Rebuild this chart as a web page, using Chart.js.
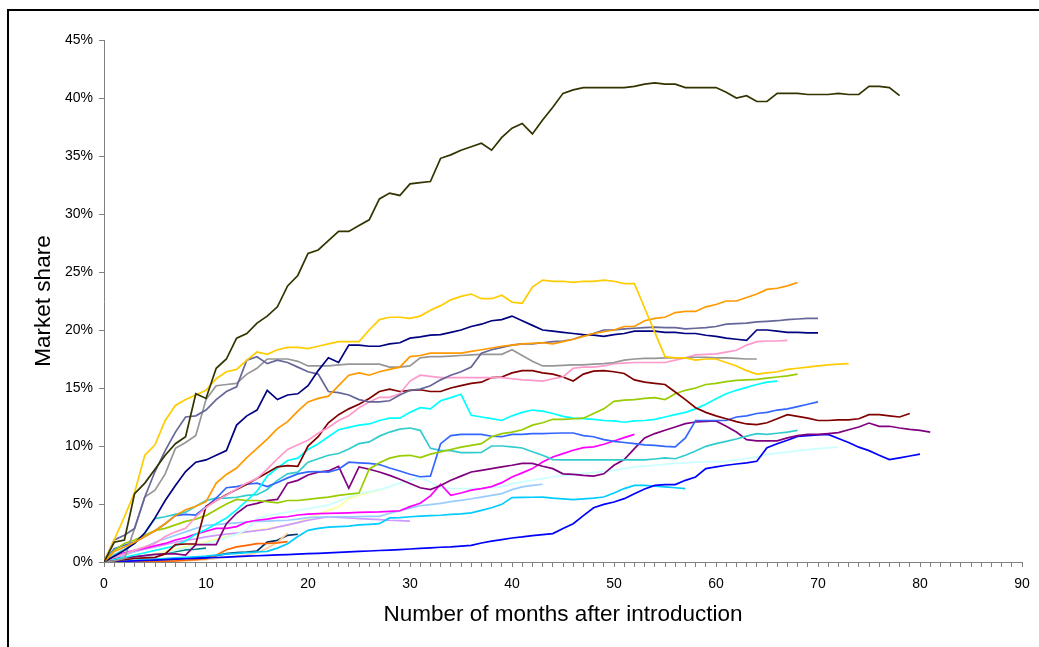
<!DOCTYPE html>
<html>
<head>
<meta charset="utf-8">
<title>Market share</title>
<script src="https://cdn.jsdelivr.net/npm/chart.js@4.4.1/dist/chart.umd.min.js"></script>
<style>
    html, body { margin: 0; padding: 0; background: #fff; overflow: hidden; }
    #wrap { position: relative; width: 1039px; height: 647px; }
    #chart { position: absolute; left: 0; top: 0; }
    #frame { position: absolute; left: 7px; top: 9px; width: 1100px; height: 700px;
             border-left: 2px solid #000; border-top: 2px solid #000; pointer-events: none; }
</style>
</head>
<body>
<div id="wrap">
    <canvas id="chart" width="1039" height="647"></canvas>
    <div id="frame"></div>
</div>
<script>
/*Axis ticks*/
var xMax = 90;
var xStep = 1;
var xLabelEvery = 10;
var yMax = 45;
var yStep = 5;

/*Series, market share in % by month after introduction (index = month)*/
var s333300 = [0,1.7,1.9,5.9,6.8,8.0,9.2,10.2,10.8,14.5,
    14.1,16.7,17.5,19.3,19.7,20.6,21.2,22.0,23.8,24.7,
    26.6,26.9,27.7,28.5,28.5,29.0,29.5,31.3,31.8,31.6,
    32.6,32.7,32.8,34.8,35.1,35.5,35.8,36.1,35.5,36.6,
    37.4,37.8,36.9,38.1,39.2,40.4,40.7,40.9,40.9,40.9,
    40.9,40.9,41.0,41.2,41.3,41.2,41.2,40.9,40.9,40.9,
    40.9,40.5,40.0,40.2,39.7,39.7,40.4,40.4,40.4,40.3,
    40.3,40.3,40.4,40.3,40.3,41.0,41.0,40.9,40.2];
var sFFCC00 = [0,1.9,3.9,6.0,9.2,10.1,12.2,13.5,14.0,14.4,
    14.8,15.8,16.4,16.6,17.4,18.1,17.9,18.3,18.5,18.5,
    18.4,18.6,18.8,19.0,19.0,19.0,20.0,20.9,21.1,21.1,
    21.0,21.2,21.7,22.1,22.6,22.9,23.1,22.7,22.7,23.0,
    22.4,22.3,23.7,24.3,24.2,24.2,24.1,24.2,24.2,24.3,
    24.2,24.0,24.0,21.9,19.8,17.7,17.6,17.6,17.4,17.5,
    17.5,17.2,16.9,16.5,16.2,16.3,16.4,16.6,16.7,16.8,
    16.9,17.0,17.05,17.1];
var sFF9900 = [0,0.9,1.3,1.7,2.2,2.7,3.3,4.0,4.5,4.8,
    5.2,6.8,7.55,8.1,9.0,9.8,10.6,11.5,12.1,13.0,
    13.8,14.1,14.3,15.2,16.1,16.3,16.1,16.4,16.6,16.8,
    17.7,17.8,18.0,18.0,18.0,18.0,18.15,18.3,18.45,18.6,
    18.7,18.8,18.85,18.9,18.8,19.0,19.2,19.45,19.7,19.85,
    20.0,20.3,20.3,20.8,21.0,21.1,21.5,21.6,21.6,22.0,
    22.2,22.5,22.5,22.8,23.1,23.5,23.6,23.8,24.1];
var s000080 = [0,0.5,1.0,1.6,2.5,3.8,5.3,6.6,7.8,8.6,
    8.8,9.2,9.6,11.8,12.6,13.1,14.8,14.0,14.4,14.5,
    15.2,16.5,17.6,17.2,18.7,18.7,18.6,18.6,18.8,18.9,
    19.3,19.4,19.55,19.6,19.8,20.0,20.3,20.5,20.8,20.9,
    21.2,20.8,20.4,20.0,19.9,19.8,19.7,19.6,19.55,19.45,
    19.6,19.7,19.9,19.9,19.9,19.8,19.8,19.7,19.7,19.55,
    19.45,19.3,19.2,19.1,20.0,20.0,19.9,19.8,19.8,19.75,19.75];
var s666699 = [0,1.9,2.3,2.9,5.6,7.8,9.6,11.2,12.5,12.6,
    13.1,14.0,14.7,15.1,17.4,17.7,17.1,17.4,17.2,16.8,
    16.4,16.2,14.7,14.6,14.4,14.0,13.8,13.8,13.9,14.4,
    14.8,14.9,15.2,15.7,16.1,16.4,16.8,18.0,18.3,18.5,
    18.7,18.8,18.8,18.9,19.0,19.05,19.2,19.5,19.7,20.0,
    20.0,20.1,20.15,20.2,20.25,20.2,20.2,20.1,20.15,20.2,
    20.3,20.5,20.55,20.6,20.7,20.75,20.8,20.9,20.95,21.0,21.0];
var s969696 = [0,0.1,0.3,2.9,5.6,6.2,7.6,9.8,10.3,10.9,
    14.0,15.2,15.3,15.4,16.2,16.7,17.5,17.5,17.5,17.3,
    16.9,16.9,16.9,17.0,17.05,17.05,17.05,17.05,16.8,16.8,
    16.9,17.6,17.7,17.7,17.75,17.8,17.85,17.9,17.9,17.9,
    18.3,17.8,17.3,16.9,16.9,16.95,17.0,17.0,17.05,17.1,
    17.2,17.4,17.5,17.55,17.55,17.6,17.6,17.6,17.65,17.65,
    17.6,17.6,17.55,17.5,17.5];
var sFF99CC = [0,0.4,0.7,1.0,1.3,1.6,2.2,2.6,2.9,3.9,
    4.7,5.3,5.75,6.3,6.8,7.2,8.0,8.9,9.7,10.1,
    10.5,11.1,11.6,12.2,12.6,13.3,13.8,14.2,14.2,14.5,
    15.6,16.1,16.0,15.9,15.9,15.9,15.9,15.9,15.9,15.9,
    15.8,15.7,15.65,15.6,15.8,15.95,16.7,16.8,16.8,16.9,
    17.1,17.15,17.2,17.2,17.2,17.2,17.4,17.6,17.85,17.9,
    17.95,18.1,18.25,18.7,19.0,19.05,19.05,19.1];
var s800000 = [0,0.1,0.2,0.3,0.35,0.4,0.7,1.5,1.55,1.55,
    4.8,5.3,5.8,6.25,6.7,7.2,7.7,8.2,8.3,8.25,
    10.0,10.8,12.0,12.7,13.2,13.6,14.1,14.7,14.9,14.7,
    14.8,14.85,14.7,14.7,15.0,15.2,15.4,15.5,15.9,15.95,
    16.3,16.5,16.5,16.3,16.2,15.95,15.6,16.2,16.45,16.5,
    16.4,16.25,15.7,15.5,15.4,15.3,14.66,14.0,13.3,12.9,
    12.6,12.35,12.1,11.9,11.85,12.0,12.35,12.7,12.55,12.4,
    12.2,12.2,12.25,12.25,12.35,12.7,12.7,12.6,12.5,12.8];
var s99CC00 = [0,1.0,1.6,1.9,2.3,2.7,2.9,3.2,3.5,3.7,
    4.0,4.5,5.0,5.4,5.3,5.3,5.2,5.1,5.3,5.3,
    5.4,5.5,5.6,5.75,5.85,5.95,8.0,8.55,8.95,9.15,
    9.2,9.0,9.3,9.5,9.7,9.9,10.06,10.2,10.8,11.07,
    11.2,11.4,11.8,12.0,12.3,12.3,12.35,12.4,12.8,13.2,
    13.85,13.95,14.0,14.1,14.17,14.0,14.5,14.8,15.0,15.3,
    15.4,15.55,15.65,15.7,15.75,15.85,15.95,16.05,16.2];
var s00FFFF = [0,0.2,0.4,0.6,0.8,1.0,1.2,1.4,1.8,2.4,
    2.8,3.3,3.8,4.5,5.3,6.1,7.4,8.1,8.75,8.95,
    9.7,10.2,10.8,11.4,11.6,11.8,11.9,12.2,12.4,12.4,
    12.9,13.3,13.2,13.9,14.17,14.46,12.65,12.5,12.36,12.2,
    12.6,12.9,13.1,13.0,12.8,12.56,12.4,12.36,12.3,12.2,
    12.17,12.05,12.17,12.2,12.3,12.5,12.7,12.9,13.2,13.6,
    14.08,14.5,14.8,15.05,15.3,15.5,15.6];
var s3366FF = [0,1.15,1.44,1.7,2.2,2.7,3.3,4.0,4.1,4.05,
    4.75,5.5,6.4,6.5,6.7,6.8,6.5,6.85,7.25,7.6,
    7.77,7.8,7.75,8.0,8.6,8.55,8.5,8.4,8.1,7.85,
    7.56,7.35,7.4,10.2,10.9,11.0,11.0,11.0,10.84,10.8,
    11.0,11.0,11.07,11.07,11.1,11.12,11.12,10.9,10.8,10.55,
    10.4,10.3,10.2,10.1,10.06,9.97,9.92,10.7,12.2,12.2,
    12.2,12.2,12.5,12.6,12.8,12.9,13.1,13.2,13.4,13.6,13.8];
var s33CCCC = [0,0.6,1.1,1.6,2.5,3.74,3.9,4.1,4.3,4.8,
    5.3,5.5,5.5,5.58,5.75,5.8,6.25,7.04,7.6,7.75,
    8.6,8.9,9.2,9.35,9.75,10.2,10.35,10.85,11.2,11.45,
    11.55,11.35,9.8,9.63,9.6,9.43,9.43,9.45,10.0,10.0,
    9.92,9.83,9.5,9.2,8.83,8.8,8.8,8.8,8.8,8.8,
    8.8,8.8,8.8,8.8,8.88,8.97,8.9,9.2,9.57,9.97,
    10.2,10.4,10.6,10.85,11.07,11.0,11.1,11.2,11.35];
var s800080 = [0,0.25,0.4,0.45,0.55,0.65,0.7,0.7,0.6,1.5,
    1.5,1.5,3.3,4.2,4.85,5.05,5.3,5.4,6.8,7.04,
    7.5,7.75,7.85,8.25,6.35,8.2,8.0,7.76,7.47,7.13,
    6.76,6.4,6.24,6.6,7.04,7.4,7.76,7.9,8.05,8.2,
    8.34,8.5,8.5,8.25,8.05,7.6,7.56,7.47,7.4,7.6,
    8.34,8.83,9.77,10.7,11.07,11.36,11.64,11.93,12.07,12.13,
    12.16,11.7,11.2,10.55,10.44,10.44,10.44,10.7,10.9,11.0,
    11.0,11.07,11.15,11.4,11.64,11.98,11.7,11.7,11.55,11.44,11.35,11.2];
var s0000FF = [0,0.03,0.06,0.1,0.13,0.17,0.2,0.24,0.28,0.32,
    0.35,0.39,0.42,0.46,0.5,0.54,0.57,0.61,0.64,0.68,
    0.72,0.75,0.79,0.83,0.87,0.91,0.95,0.99,1.03,1.07,
    1.12,1.17,1.22,1.27,1.3,1.37,1.44,1.64,1.8,1.93,
    2.07,2.16,2.28,2.36,2.45,2.88,3.3,4.0,4.68,4.97,
    5.17,5.46,5.89,6.3,6.61,6.67,6.67,7.04,7.33,8.05,
    8.2,8.34,8.45,8.55,8.68,9.86,10.2,10.5,10.83,10.9,
    10.95,11.0,10.65,10.3,9.9,9.6,9.2,8.83,8.98,9.14,9.3];
var sFF00FF = [0,0.5,0.8,1.0,1.2,1.4,1.6,1.9,2.1,2.4,
    2.65,2.9,2.9,3.05,3.45,3.6,3.7,3.85,3.9,4.05,
    4.12,4.17,4.2,4.22,4.24,4.27,4.3,4.32,4.37,4.42,
    4.77,5.06,5.7,6.7,5.75,5.95,6.2,6.33,6.5,6.84,
    7.33,7.68,8.05,8.62,9.05,9.34,9.63,9.86,9.92,10.15,
    10.43,10.72,11.0];
var sCCFFFF = [0,0.1,0.2,0.3,0.45,0.6,0.8,1.0,1.2,1.4,
    1.6,1.8,2.1,2.4,2.8,3.74,4.0,4.15,4.3,4.45,
    4.6,4.75,4.9,5.25,5.6,5.9,6.05,6.24,6.5,6.8,
    7.05,7.3,6.9,6.4,6.35,6.33,6.33,6.36,6.4,6.5,
    6.76,6.9,7.05,7.2,7.35,7.45,7.56,7.65,7.72,7.8,
    7.9,8.05,8.2,8.27,8.34,8.42,8.5,8.55,8.6,8.63,
    8.66,8.68,8.8,8.92,9.05,9.28,9.38,9.48,9.58,9.68,
    9.77,9.84,9.91];
var s99CCFF = [0,0.3,0.6,0.9,1.3,1.7,2.0,2.3,2.6,2.9,
    3.16,3.23,3.3,3.38,3.45,3.5,3.53,3.57,3.6,3.7,
    3.83,3.87,3.9,3.9,3.9,3.92,3.93,3.94,4.2,4.4,
    4.65,4.85,4.95,5.05,5.2,5.32,5.45,5.6,5.75,5.9,
    6.24,6.47,6.6,6.7];
var s00CCFF = [0,0.05,0.1,0.15,0.2,0.25,0.3,0.35,0.4,0.45,
    0.5,0.6,0.68,0.75,0.8,0.86,0.92,1.2,1.58,2.2,
    2.73,2.9,3.0,3.05,3.1,3.2,3.25,3.3,3.8,3.83,
    3.9,3.95,4.0,4.03,4.1,4.15,4.23,4.45,4.68,4.97,
    5.55,5.57,5.58,5.6,5.5,5.45,5.37,5.45,5.5,5.6,
    5.95,6.33,6.61,6.6,6.53,6.47,6.4,6.33];
var sCC99FF = [0,0.3,0.6,0.9,1.1,1.3,1.5,1.7,1.87,2.0,
    2.16,2.3,2.4,2.5,2.6,2.7,2.8,3.0,3.2,3.4,
    3.6,3.75,3.9,3.85,3.8,3.74,3.7,3.65,3.6,3.57,3.53];
var sFFFF99 = [0,0.1,0.2,0.35,0.5,0.7,0.9,1.1,1.3,1.5,
    1.72,1.95,2.2,2.4,2.6,2.75,2.87,3.0,3.16,3.45,
    3.74,4.1,4.45,4.74,5.46,5.75,6.0,6.2];
var sFF6600 = [0,0,0,0,0.02,0.05,0.08,0.1,0.15,0.2,
    0.29,0.58,1.06,1.3,1.44,1.58,1.6,1.65,1.75];
var sFFCC99 = [0,0,0,0.02,0.04,0.06,0.08,0.1,0.12,0.15,
    0.2,0.3,0.4,0.5,0.6,0.8,1.2,1.7,2.5];
var s003366 = [0,0.02,0.05,0.08,0.12,0.16,0.2,0.25,0.3,0.37,
    0.43,0.55,0.72,0.8,0.86,0.95,1.72,1.87,2.3,2.39];
var s008080 = [0,0.2,0.35,0.45,0.55,0.65,0.8,0.9,1.05,1.1,1.2];

/*Draw order: first listed is drawn on top*/
var seriesList = [
    [s333300, '#333300'], [sFFCC00, '#FFCC00'], [sFF9900, '#FF9900'],
    [s000080, '#000080'], [s666699, '#666699'], [s969696, '#969696'],
    [sFF99CC, '#FF99CC'], [s800000, '#800000'], [s99CC00, '#99CC00'],
    [s00FFFF, '#00FFFF'], [s3366FF, '#3366FF'], [s33CCCC, '#33CCCC'],
    [s800080, '#800080'], [s0000FF, '#0000FF'], [sFF00FF, '#FF00FF'],
    [sCCFFFF, '#CCFFFF'], [s99CCFF, '#99CCFF'], [s00CCFF, '#00CCFF'],
    [sCC99FF, '#CC99FF'], [sFFFF99, '#FFFF99'], [sFF6600, '#FF6600'],
    [sFFCC99, '#FFCC99'], [s003366, '#003366'], [s008080, '#008080']
];

/*Build datasets*/
var datasets = seriesList.map(function(item){
    return {
        data: item[0].map(function(v, i){ return {x: i, y: v}; }),
        borderColor: item[1],
        backgroundColor: item[1],
        borderWidth: 1.7,
        pointRadius: 0,
        fill: false,
        tension: 0
    };
});

Chart.defaults.font.family = "'Liberation Sans', Arial, sans-serif";
Chart.defaults.color = '#000';

var axisGray = '#808080';

new Chart(document.getElementById('chart').getContext('2d'), {
    type: 'line',
    data: { datasets: datasets },
    options: {
        responsive: false,
        animation: false,
        events: [],
        layout: { padding: { top: 40, right: 17, bottom: 0, left: 0 } },
        plugins: { legend: { display: false }, tooltip: { enabled: false } },
        scales: {
            x: {
                type: 'linear',
                min: 0,
                max: xMax,
                afterFit: function(scale){ scale.height = 85; },
                grid: { drawOnChartArea: false, drawTicks: true, tickLength: 5, color: axisGray },
                border: { display: true, color: axisGray, width: 1 },
                ticks: {
                    stepSize: xStep,
                    autoSkip: false,
                    maxRotation: 0,
                    padding: 9,
                    font: { size: 14 },
                    color: '#000',
                    callback: function(v){ return v % xLabelEvery === 0 ? String(v) : ''; }
                },
                title: {
                    display: true,
                    text: 'Number of months after introduction',
                    font: { size: 22.5 },
                    color: '#000',
                    padding: { top: 0, bottom: 19 }
                }
            },
            y: {
                min: 0,
                max: yMax,
                afterFit: function(scale){ scale.width = 104; },
                grid: { drawOnChartArea: false, drawTicks: true, tickLength: 5, color: axisGray },
                border: { display: true, color: axisGray, width: 1 },
                ticks: {
                    stepSize: yStep,
                    padding: 6,
                    font: { size: 14 },
                    color: '#000',
                    callback: function(v){ return v + '%'; }
                },
                title: {
                    display: true,
                    text: 'Market share',
                    font: { size: 22.5 },
                    color: '#000',
                    padding: { top: 30, bottom: 0 }
                }
            }
        }
    }
});
</script>
</body>
</html>
